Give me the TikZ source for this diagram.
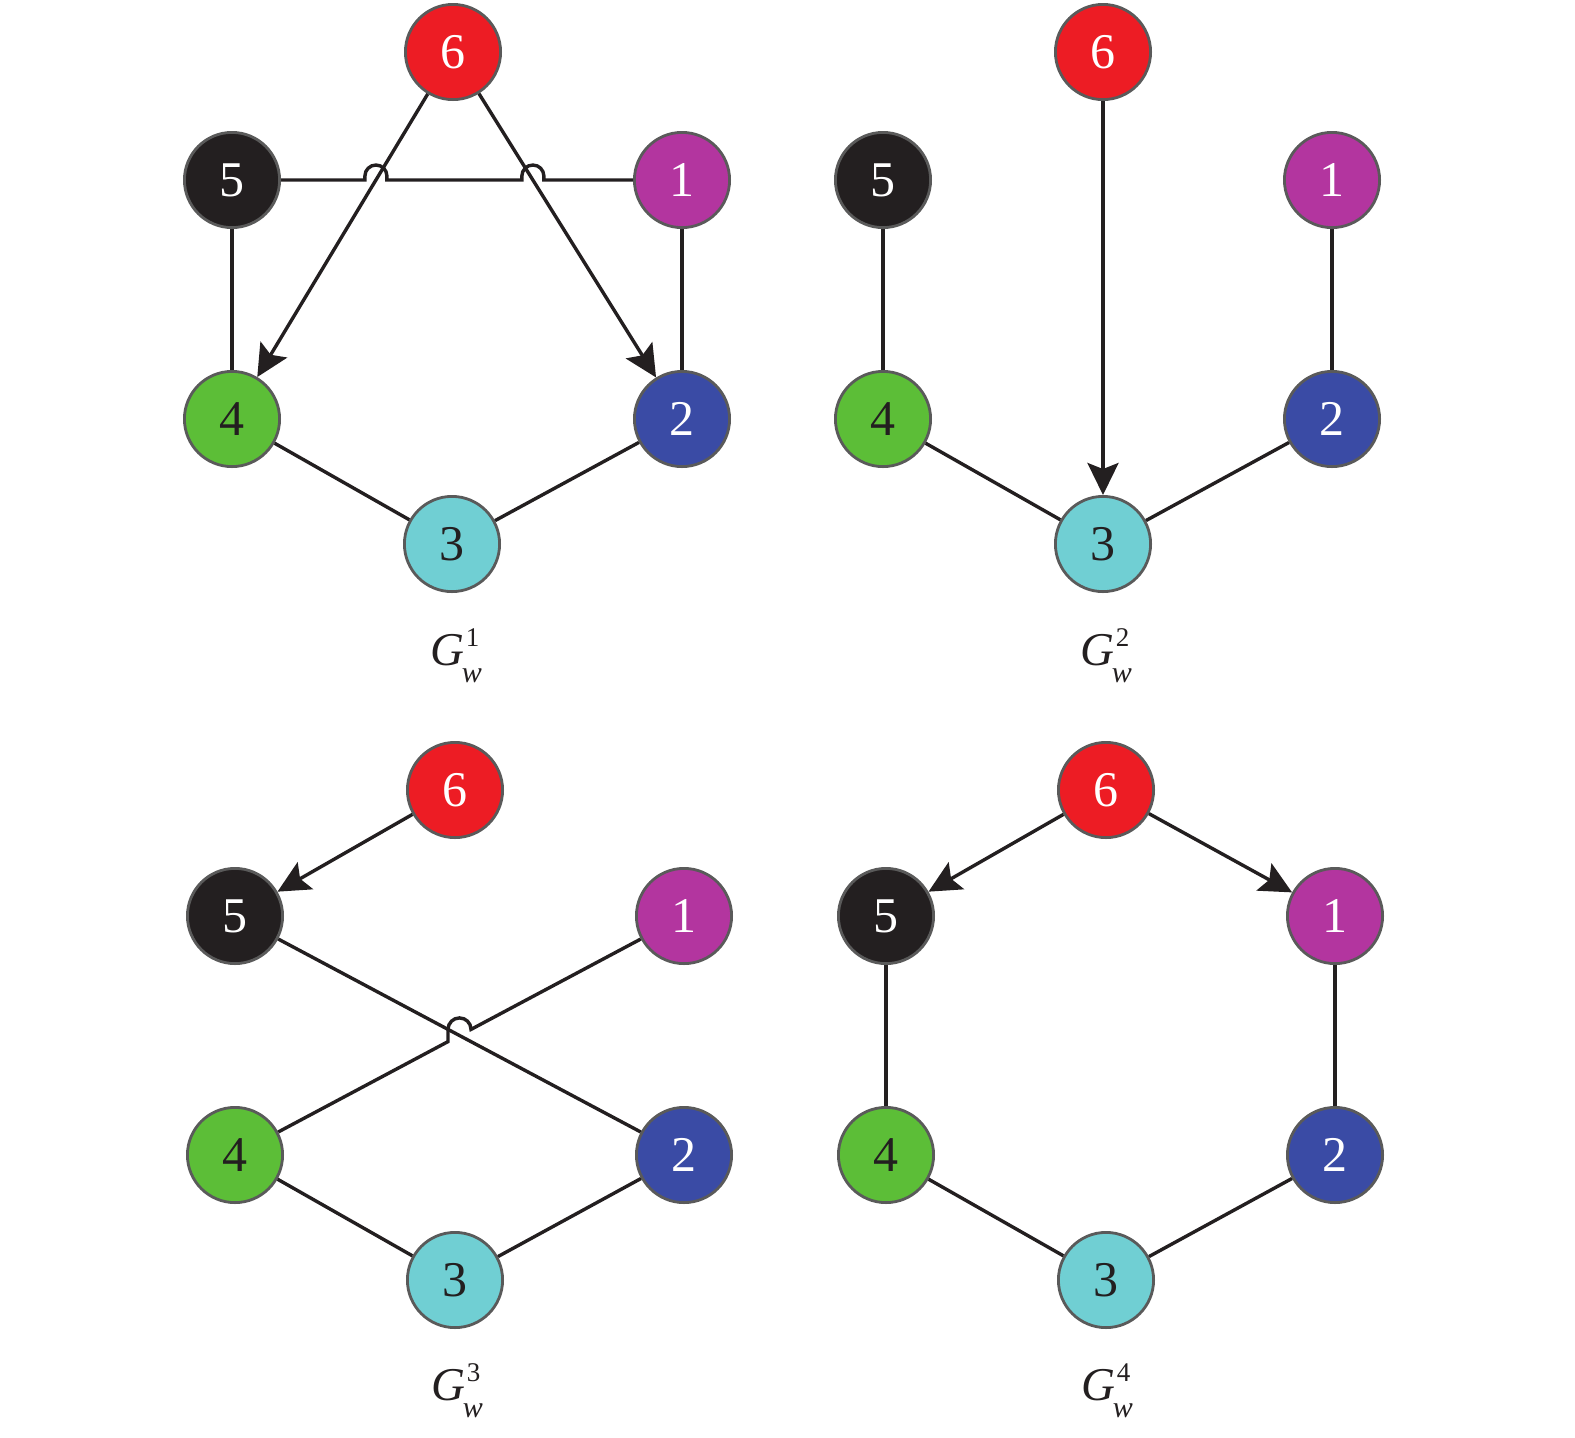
\documentclass[tikz,border=0pt]{standalone}
\usepackage{fontspec}
\setmainfont{Liberation Serif}
\usetikzlibrary{arrows.meta,calc,intersections}
\definecolor{cred}{HTML}{ED1C24}
\definecolor{cblack}{HTML}{231F20}
\definecolor{cpurple}{HTML}{B3359F}
\definecolor{cgreen}{HTML}{5CBE37}
\definecolor{cblue}{HTML}{3A4BA5}
\definecolor{ccyan}{HTML}{70CFD3}
\definecolor{cborder}{HTML}{5A5A5A}
\definecolor{cedge}{HTML}{231F20}
\newcommand\glab[1]{\textit{G}\rlap{\kern1pt\raisebox{9.5pt}{\fontsize{13.5}{13.5}\selectfont #1}}\kern-1pt\raisebox{-8.5pt}{\fontsize{15}{15}\selectfont\textit{w}}}
\tikzset{
  vtx/.style={circle,draw=cborder,line width=1.4pt,minimum size=47.6pt,inner sep=0pt,
    font=\fontsize{25}{30}\selectfont},
  vsix/.style={vtx,fill=cred,text=white},
  vfive/.style={vtx,fill=cblack,text=white},
  vone/.style={vtx,fill=cpurple,text=white},
  vtwo/.style={vtx,fill=cblue,text=white},
  vfour/.style={vtx,fill=cgreen,text=cblack},
  vthree/.style={vtx,fill=ccyan,text=cblack},
  edg/.style={draw=cedge,line width=1.7pt},
  arr/.style={edg,-{Stealth[length=16pt,width=15.5pt,inset=3pt]}},
  lab/.style={font=\fontsize{23.5}{28}\selectfont,text=cblack,anchor=base,inner sep=0pt}
}
\begin{document}
\begin{tikzpicture}[x=0.5pt,y=0.5pt]
\useasboundingbox (0,0) rectangle (1575,-1437);
% ---------- G1 ----------
\node[vsix]   (a6) at (453,-52)  {6};
\node[vfive]  (a5) at (232,-180) {5};
\node[vone]   (a1) at (682,-180) {1};
\node[vfour]  (a4) at (232,-419) {4};
\node[vtwo]   (a2) at (682,-419) {2};
\node[vthree] (a3) at (452,-544) {3};
\node[lab]    (la) at (456,-665) {\glab{1}};
\path[name path=a64] (a6) -- (a4);
\path[name path=a62] (a6) -- (a2);
\path[name path=a51] (a5) -- (a1);
\path[name intersections={of=a64 and a51,by=xa}];
\path[name intersections={of=a62 and a51,by=xb}];
\draw[edg] (a5) -- ($(xa)+(-11,0)$) -- ++(0,4) arc[start angle=180,end angle=0,radius=11] -- ++(0,-4)
  -- ($(xb)+(-11,0)$) -- ++(0,4) arc[start angle=180,end angle=0,radius=11] -- ++(0,-4) -- (a1);
\draw[edg] (a5) -- (a4);
\draw[edg] (a1) -- (a2);
\draw[edg] (a4) -- (a3);
\draw[edg] (a3) -- (a2);
\draw[arr] (a6) -- (a4);
\draw[arr] (a6) -- (a2);
% ---------- G2 ----------
\node[vsix]   (b6) at (1103,-52)  {6};
\node[vfive]  (b5) at (883,-180)  {5};
\node[vone]   (b1) at (1332,-180) {1};
\node[vfour]  (b4) at (883,-419)  {4};
\node[vtwo]   (b2) at (1332,-419) {2};
\node[vthree] (b3) at (1103,-544) {3};
\node[lab]    (lb) at (1106,-665) {\glab{2}};
\draw[edg] (b5) -- (b4);
\draw[edg] (b1) -- (b2);
\draw[edg] (b4) -- (b3);
\draw[edg] (b3) -- (b2);
\draw[arr] (b6) -- (b3);
% ---------- G3 ----------
\node[vsix]   (c6) at (455,-790)  {6};
\node[vfive]  (c5) at (235,-916)  {5};
\node[vone]   (c1) at (684,-916)  {1};
\node[vfour]  (c4) at (235,-1155) {4};
\node[vtwo]   (c2) at (684,-1155) {2};
\node[vthree] (c3) at (455,-1280) {3};
\node[lab]    (lc) at (457,-1400) {\glab{3}};
\path[name path=c52] (c5) -- (c2);
\path[name path=c41] (c4) -- (c1);
\path[name intersections={of=c52 and c41,by=xc}];
\draw[edg] (c5) -- (c2);
\draw[edg] (c4) -- ($(xc)+(-11.5,-6.1)$) -- ($(xc)+(-11.5,6.1)$)
  arc[start angle=180,end angle=0,radius=11.5] -- (c1);
\draw[edg] (c4) -- (c3);
\draw[edg] (c3) -- (c2);
\draw[arr] (c6) -- (c5);
% ---------- G4 ----------
\node[vsix]   (d6) at (1106,-790)  {6};
\node[vfive]  (d5) at (886,-916)   {5};
\node[vone]   (d1) at (1335,-916)  {1};
\node[vfour]  (d4) at (886,-1155)  {4};
\node[vtwo]   (d2) at (1335,-1155) {2};
\node[vthree] (d3) at (1106,-1280) {3};
\node[lab]    (ld) at (1107,-1400) {\glab{4}};
\draw[edg] (d5) -- (d4);
\draw[edg] (d1) -- (d2);
\draw[edg] (d4) -- (d3);
\draw[edg] (d3) -- (d2);
\draw[arr] (d6) -- (d5);
\draw[arr] (d6) -- (d1);
\end{tikzpicture}
\end{document}
